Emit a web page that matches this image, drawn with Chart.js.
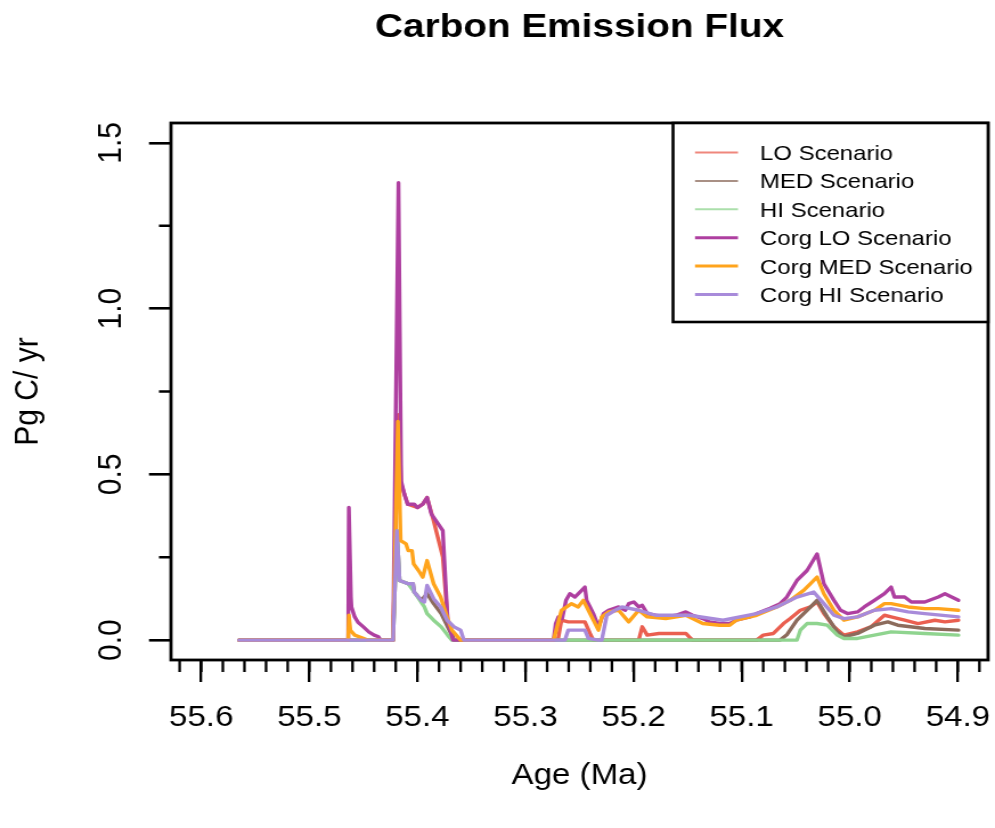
<!DOCTYPE html>
<html>
<head>
<meta charset="utf-8">
<title>Carbon Emission Flux</title>
<script src="https://cdn.jsdelivr.net/npm/chart.js@4.4.1/dist/chart.umd.min.js"></script>
<style>
  html, body { margin: 0; padding: 0; background: #ffffff; overflow: hidden; }
  /* the figure is drawn on a narrower canvas and widened, as in the printed figure */
  #c { display: block; transform: scaleX(1.13975); transform-origin: 0 0; }
</style>
</head>
<body>
<canvas id="c" width="873" height="828"></canvas>
<script>
// ---- data: age (Ma) and emission flux (Pg C / yr) per scenario ----
const loAge = [55.565, 55.4225, 55.4175, 55.415, 55.412, 55.409, 55.400, 55.395, 55.391, 55.385,
  55.378, 55.3765, 55.372, 55.366, 55.270, 55.2667, 55.2605, 55.2450, 55.2403, 55.2372,
  55.1952, 55.1920, 55.1874, 55.1765, 55.1516, 55.1485, 55.1453, 55.0862, 55.0800, 55.0706,
  55.0613, 55.0550, 55.0457, 55.0364, 55.0302, 55.0239, 55.0146, 55.0053, 54.9928, 54.9804,
  54.9679, 54.9617, 54.9492, 54.9368, 54.9212, 54.9119, 54.8994];
const loFlux = [0, 0, 0.68, 0.47, 0.44, 0.41, 0.40, 0.41, 0.43, 0.36,
  0.27, 0.25, 0.06, 0, 0, 0.06, 0.055, 0.055, 0.02, 0,
  0, 0.04, 0.015, 0.02, 0.02, 0.01, 0, 0, 0.015, 0.02,
  0.05, 0.065, 0.09, 0.10, 0.115, 0.08, 0.04, 0.015, 0.025, 0.04,
  0.075, 0.07, 0.06, 0.05, 0.06, 0.055, 0.06];

const medAge = [55.565, 55.4225, 55.419, 55.4165, 55.4085, 55.404, 55.403, 55.3965, 55.391, 55.385,
  55.378, 55.372, 55.366, 55.0644, 55.0582, 55.0488, 55.0395, 55.0302, 55.0208, 55.0115,
  55.0053, 54.9928, 54.9772, 54.9648, 54.9555, 54.9305, 54.8994];
const medFlux = [0, 0, 0.33, 0.18, 0.17, 0.17, 0.145, 0.12, 0.14, 0.11,
  0.08, 0.04, 0, 0, 0.016, 0.06, 0.09, 0.12, 0.07, 0.025,
  0.01, 0.02, 0.045, 0.055, 0.045, 0.035, 0.03];

const hiAge = [55.565, 55.4225, 55.419, 55.4165, 55.4085, 55.404, 55.3935, 55.391, 55.385, 55.378,
  55.372, 55.368, 55.0488, 55.0457, 55.0395, 55.0302, 55.0208, 55.0115, 55.0053, 54.9928,
  54.9772, 54.9617, 54.9305, 54.8994];
const hiFlux = [0, 0, 0.33, 0.18, 0.17, 0.15, 0.10, 0.08, 0.06, 0.04,
  0.015, 0, 0, 0.03, 0.05, 0.05, 0.045, 0.015, 0.005, 0.005,
  0.015, 0.025, 0.02, 0.015];

const corgLoAge = [55.565, 55.4640, 55.4634, 55.4615, 55.461, 55.458, 55.455, 55.450, 55.445, 55.440,
  55.436, 55.434, 55.4225, 55.4175, 55.415, 55.412, 55.409, 55.403, 55.400, 55.395,
  55.391, 55.387, 55.3765, 55.372, 55.367, 55.274, 55.272, 55.2695, 55.266, 55.2625,
  55.2590, 55.2543, 55.2496, 55.2450, 55.2434, 55.2403, 55.2372, 55.2325, 55.2278, 55.2232,
  55.2138, 55.2076, 55.2045, 55.1998, 55.1952, 55.1920, 55.1874, 55.1796, 55.1702, 55.1609,
  55.1516, 55.1453, 55.1360, 55.1298, 55.1204, 55.1111, 55.1049, 55.0924, 55.0862, 55.0737,
  55.0644, 55.0582, 55.0488, 55.0395, 55.0302, 55.0239, 55.0146, 55.0084, 55.0021, 54.9928,
  54.9866, 54.9772, 54.9679, 54.9617, 54.9586, 54.9492, 54.9430, 54.9305, 54.9181, 54.9119,
  54.9057, 54.8994];
const corgLoFlux = [0, 0, 0.40, 0.13, 0.10, 0.07, 0.054, 0.04, 0.025, 0.015,
  0.01, 0, 0, 1.38, 0.48, 0.44, 0.41, 0.41, 0.40, 0.41,
  0.43, 0.38, 0.33, 0.06, 0, 0, 0.05, 0.07, 0.065, 0.12,
  0.14, 0.13, 0.145, 0.16, 0.12, 0.10, 0.08, 0.04, 0.08, 0.09,
  0.10, 0.09, 0.11, 0.115, 0.10, 0.105, 0.08, 0.075, 0.07, 0.075,
  0.085, 0.075, 0.065, 0.055, 0.05, 0.05, 0.06, 0.07, 0.08, 0.096,
  0.11, 0.13, 0.18, 0.21, 0.26, 0.17, 0.12, 0.09, 0.08, 0.085,
  0.10, 0.12, 0.14, 0.16, 0.13, 0.13, 0.115, 0.115, 0.13, 0.14,
  0.13, 0.12];

const corgMedAge = [55.565, 55.4640, 55.4634, 55.462, 55.458, 55.452, 55.446, 55.4225, 55.418, 55.4155,
  55.4105, 55.4085, 55.405, 55.4035, 55.399, 55.395, 55.391, 55.385, 55.3785, 55.3725,
  55.368, 55.360, 55.274, 55.2667, 55.2574, 55.2512, 55.2465, 55.2418, 55.2325, 55.2294,
  55.2232, 55.2138, 55.2045, 55.1952, 55.1874, 55.1702, 55.1516, 55.1360, 55.1204, 55.1111,
  55.1049, 55.0862, 55.0675, 55.0550, 55.0426, 55.0302, 55.0239, 55.0146, 55.0053, 54.9928,
  54.9772, 54.9679, 54.9617, 54.9461, 54.9305, 54.9181, 54.8994];
const corgMedFlux = [0, 0, 0.075, 0.03, 0.015, 0.008, 0, 0, 0.66, 0.30,
  0.29, 0.27, 0.27, 0.23, 0.21, 0.19, 0.24, 0.17, 0.13, 0.07,
  0.03, 0, 0, 0.09, 0.11, 0.10, 0.12, 0.09, 0.03, 0.07,
  0.085, 0.09, 0.055, 0.09, 0.07, 0.065, 0.075, 0.05, 0.045, 0.045,
  0.06, 0.075, 0.10, 0.12, 0.15, 0.19, 0.14, 0.09, 0.06, 0.07,
  0.09, 0.11, 0.11, 0.10, 0.095, 0.095, 0.09];

const corgHiAge = [55.565, 55.4225, 55.419, 55.4165, 55.4085, 55.404, 55.403, 55.3965, 55.3935, 55.391,
  55.385, 55.3785, 55.3725, 55.366, 55.360, 55.357, 55.2635, 55.2605, 55.2450, 55.2418,
  55.2325, 55.2294, 55.2247, 55.2170, 55.2107, 55.1952, 55.1796, 55.1485, 55.1173, 55.0862,
  55.0675, 55.0488, 55.0333, 55.0239, 55.0146, 55.0053, 54.9928, 54.9772, 54.9617, 54.9461,
  54.9305, 54.8994];
const corgHiFlux = [0, 0, 0.33, 0.18, 0.17, 0.17, 0.145, 0.12, 0.115, 0.165,
  0.125, 0.10, 0.06, 0.04, 0.03, 0, 0, 0.03, 0.03, 0.005,
  0, 0, 0.075, 0.09, 0.10, 0.09, 0.075, 0.075, 0.06, 0.08,
  0.10, 0.13, 0.145, 0.11, 0.075, 0.065, 0.07, 0.09, 0.095, 0.085,
  0.08, 0.07];

const seriesNames = ['LO Scenario', 'MED Scenario', 'HI Scenario',
  'Corg LO Scenario', 'Corg MED Scenario', 'Corg HI Scenario'];
const seriesColors = ['#ea5f50', '#8c6b5c', '#8fd48f', '#ae3fa0', '#ffa41c', '#a88bda'];

// axis ticks
const xMajorTicks = [55.6, 55.5, 55.4, 55.3, 55.2, 55.1, 55.0, 54.9];
const yMajorTicks = [0, 0.5, 1.0, 1.5];
const yTickLabels = ['0.0', '0.5', '1.0', '1.5'];
const yMinorTicks = [0.25, 0.75, 1.25];
const xMinorTicks = [];
for (let i = 0; i <= 37; i++) xMinorTicks.push(+(55.62 - 0.02 * i).toFixed(2));

// ---- styling ----
const FONT = "'Liberation Sans', Arial, Helvetica, sans-serif";
const TICK_PX = 29;   // horizontal text
const ROT_PX = 30;    // text written bottom-to-top

const pairs = (ages, flux) => ages.map((a, i) => ({ x: a, y: flux[i] }));
const seriesData = [
  pairs(loAge, loFlux), pairs(medAge, medFlux), pairs(hiAge, hiFlux),
  pairs(corgLoAge, corgLoFlux), pairs(corgMedAge, corgMedFlux), pairs(corgHiAge, corgHiFlux)
];

const datasets = seriesData.map((d, i) => ({
  label: seriesNames[i],
  data: d,
  borderColor: seriesColors[i],
  backgroundColor: seriesColors[i],
  borderWidth: 3.4,
  pointRadius: 0,
  fill: false,
  tension: 0,
  borderJoinStyle: 'round',
  borderCapStyle: 'round',
  order: seriesNames.length - i   // later scenarios are drawn over earlier ones
}));

// frame, minor ticks, rotated y labels, main title and legend box
const rFrame = {
  id: 'rFrame',
  afterDraw(chart) {
    const { ctx, chartArea: a, scales: { x, y } } = chart;
    ctx.save();
    ctx.strokeStyle = '#000';
    ctx.fillStyle = '#000';

    // plot box
    ctx.lineWidth = 2.8;
    ctx.strokeRect(a.left, a.top, a.right - a.left, a.bottom - a.top);

    // minor ticks
    ctx.lineWidth = 2.3;
    ctx.beginPath();
    xMinorTicks.forEach(v => {
      const px = x.getPixelForValue(v);
      ctx.moveTo(px, a.bottom);
      ctx.lineTo(px, a.bottom + 12);
    });
    ctx.stroke();
    ctx.lineWidth = 2.6;
    ctx.beginPath();
    yMinorTicks.forEach(v => {
      const py = y.getPixelForValue(v);
      ctx.moveTo(a.left - 10.5, py);
      ctx.lineTo(a.left, py);
    });
    ctx.stroke();

    // y tick labels, written bottom-to-top
    ctx.font = `${ROT_PX}px ${FONT}`;
    ctx.textAlign = 'center';
    ctx.textBaseline = 'alphabetic';
    yMajorTicks.forEach((v, i) => {
      const py = y.getPixelForValue(v);
      ctx.save();
      ctx.translate(95.6, py);
      ctx.rotate(-Math.PI / 2);
      ctx.fillText(yTickLabels[i], 0, 0.358 * ROT_PX);
      ctx.restore();
    });

    // main title, centred over the plot region
    ctx.font = `bold 34px ${FONT}`;
    ctx.textAlign = 'center';
    ctx.fillText('Carbon Emission Flux', (a.left + a.right) / 2, 36.5);

    // legend in the top-right corner
    const boxL = 590.5, boxT = a.top, boxR = a.right, boxB = 322;
    ctx.fillStyle = '#fff';
    ctx.fillRect(boxL, boxT, boxR - boxL, boxB - boxT);
    ctx.lineWidth = 2.6;
    ctx.strokeStyle = '#000';
    ctx.strokeRect(boxL, boxT, boxR - boxL, boxB - boxT);
    ctx.font = `21px ${FONT}`;
    ctx.textAlign = 'left';
    seriesNames.forEach((name, i) => {
      const cy = boxT + 29.5 + i * 28.4;
      ctx.strokeStyle = seriesColors[i];
      ctx.globalAlpha = i < 3 ? 0.75 : 1;
      ctx.lineWidth = i < 3 ? 2 : 3;
      ctx.beginPath();
      ctx.moveTo(boxL + 19.3, cy);
      ctx.lineTo(boxL + 57, cy);
      ctx.stroke();
      ctx.globalAlpha = 1;
      ctx.fillStyle = '#000';
      ctx.fillText(name, boxL + 76.3, cy + 0.358 * 21);
    });
    ctx.restore();
  }
};

new Chart(document.getElementById('c'), {
  type: 'line',
  data: { datasets },
  options: {
    responsive: false,
    animation: false,
    devicePixelRatio: 1,
    layout: { autoPadding: false, padding: { left: 0, right: 6.1, top: 123, bottom: 0 } },
    plugins: { legend: { display: false }, tooltip: { enabled: false }, title: { display: false } },
    scales: {
      x: {
        type: 'linear',
        reverse: true,
        min: 54.872,
        max: 55.628,
        afterBuildTicks: s => { s.ticks = xMajorTicks.map(v => ({ value: v })); },
        afterFit: s => { s.height = 168; s.paddingLeft = 0; s.paddingRight = 0; },
        ticks: {
          autoSkip: false, maxRotation: 0, minRotation: 0,
          padding: 19, color: '#000',
          font: { family: FONT, size: TICK_PX },
          callback: v => Number(v).toFixed(1)
        },
        grid: { drawOnChartArea: false, drawTicks: true, tickLength: 22, lineWidth: 2.3, tickColor: '#000' },
        border: { display: false },
        title: {
          display: true, text: 'Age (Ma)', color: '#000',
          font: { family: FONT, size: TICK_PX }, padding: { top: 0, bottom: 35 }
        }
      },
      y: {
        type: 'linear',
        min: -0.06,
        max: 1.56,
        afterBuildTicks: s => { s.ticks = yMajorTicks.map(v => ({ value: v })); },
        afterFit: s => { s.width = 150; s.paddingTop = 0; s.paddingBottom = 0; },
        ticks: { display: false },
        grid: { drawOnChartArea: false, drawTicks: true, tickLength: 19.3, lineWidth: 2.6, tickColor: '#000' },
        border: { display: false },
        title: {
          display: true, text: 'Pg C/ yr', color: '#000',
          font: { family: FONT, size: ROT_PX }, padding: { top: 7.2, bottom: 0 }
        }
      }
    }
  },
  plugins: [rFrame]
});
</script>
</body>
</html>
